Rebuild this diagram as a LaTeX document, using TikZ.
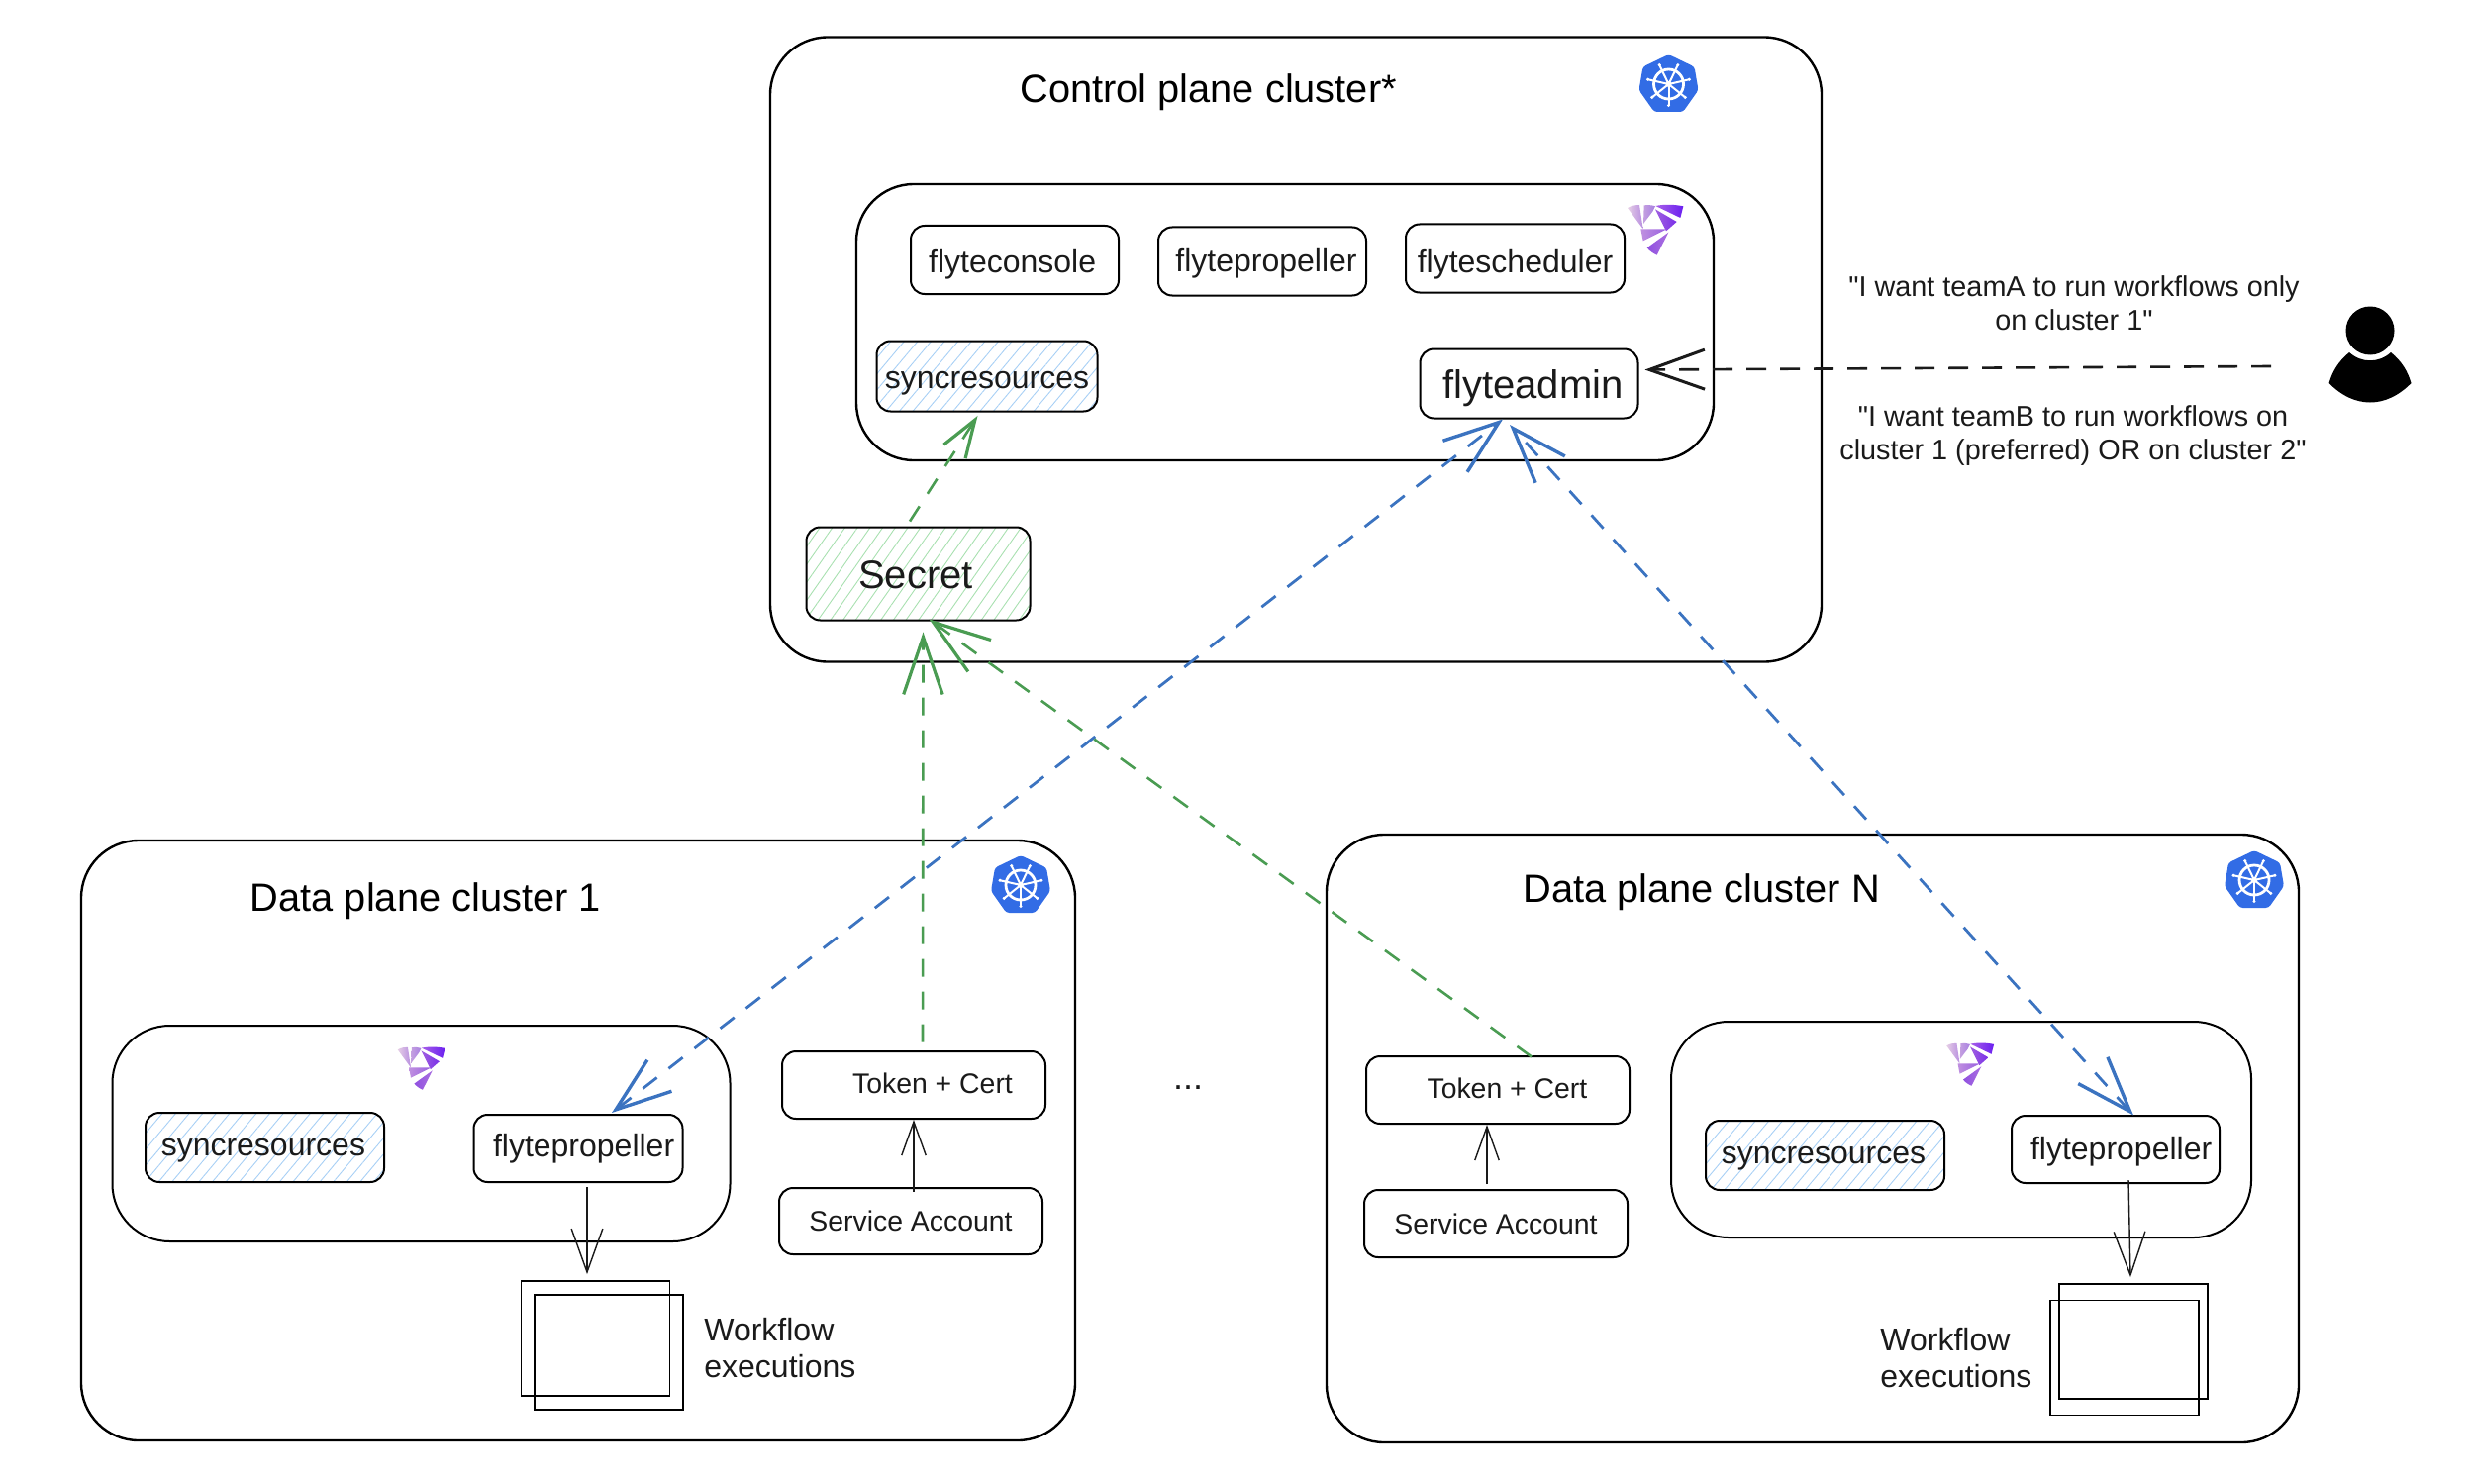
\documentclass[tikz,border=0pt]{standalone}
\usepackage{fontspec}
\setmainfont{Liberation Sans}
\newfontfamily\plainsans{Liberation Sans}
\usetikzlibrary{arrows.meta,patterns.meta,calc}
\definecolor{ink}{HTML}{1A1A1A}
\definecolor{kblue}{HTML}{326CE5}
\definecolor{bluedash}{HTML}{3B73C0}
\definecolor{greendash}{HTML}{4A9C52}
\definecolor{hatchblue}{HTML}{A8D0F5}
\definecolor{hatchgreen}{HTML}{A8E0B0}
\definecolor{pa1}{HTML}{E6CFE6}\definecolor{pa2}{HTML}{B88FE0}
\definecolor{pb1}{HTML}{C4A0E0}\definecolor{pb2}{HTML}{A880E2}
\definecolor{pc1}{HTML}{A860E8}\definecolor{pc2}{HTML}{6A1FF0}
\definecolor{pd1}{HTML}{A060E0}\definecolor{pd2}{HTML}{7A30E8}
\definecolor{pe1}{HTML}{C090E0}\definecolor{pe2}{HTML}{9860E0}
\definecolor{pf1}{HTML}{9050E0}\definecolor{pf2}{HTML}{AA70E0}
% text in a box: horizontal offset (twice the shift), baseline offset from the centre, text
\newcommand\tx[3]{\hspace*{#1}\raisebox{#2}[0pt][0pt]{#3}}
\tikzset{
  cluster/.style={draw=black,line width=1.2pt,rounded corners=29pt,rectangle,inner sep=0pt},
  comp/.style={draw=black,line width=1pt,rounded corners=7pt,rectangle,inner sep=0pt,text=ink,fill=white},
  hatchb/.style={pattern={Lines[angle=50,distance=5.2pt,line width=.45pt]},pattern color=hatchblue},
  hatchg/.style={pattern={Lines[angle=55,distance=5.2pt,line width=.45pt]},pattern color=hatchgreen},
  square/.style={draw=black,line width=.9pt,rectangle,inner sep=0pt},
  label/.style={text=ink,inner sep=0pt,font=\fontsize{16}{18.5}\selectfont,align=left},
  title/.style={text=black,inner sep=0pt,font=\fontsize{19.9}{24}\selectfont},
  quote/.style={text=ink,inner sep=0pt,align=center,font=\plainsans\fontsize{14.4}{16.8}\selectfont},
  fs16/.style={font=\fontsize{16}{18}\selectfont},
  fs14/.style={font=\fontsize{14.2}{17}\selectfont},
  fs20/.style={font=\fontsize{20}{24}\selectfont},
  bluelink/.style={draw=bluedash,line width=1.4pt,dash pattern=on 9pt off 7.5pt,{Straight Barb[length=28pt,width=20pt,line width=1.7pt,bluedash]}-{Straight Barb[length=28pt,width=20pt,line width=1.7pt,bluedash]}},
  greenlink/.style={draw=greendash,line width=1.3pt,dash pattern=on 9pt off 7.5pt,-{Straight Barb[length=#1,width=.68*#1,line width=1.6pt,greendash]}},
  blacklink/.style={draw=ink,line width=1.3pt,dash pattern=on 10pt off 7pt,-{Straight Barb[length=28pt,width=20pt,line width=1.5pt,ink]}},
  thinarrow/.style={draw=ink,line width=.7pt,-{Straight Barb[length=#1,width=.72*#1,line width=.7pt,ink]}},
  k8slogo/.pic={
    \fill[kblue,rounded corners=1.5pt] (0,-30) -- (26,-17.5) -- (30,6) -- (14.5,28) -- (-14.5,28) -- (-30,6) -- (-26,-17.5) -- cycle;
    \draw[white,line width=1.4pt] (0,0) circle (15);
    \fill[white] (0,0) circle (3);
    \foreach \a in {90,141.43,192.86,244.29,295.71,347.14,398.57}{
      \draw[white,line width=1pt] (0,0) -- (\a:22);
      \fill[white] (\a:21.5) circle (1.7);
    }
  },
  flytelogo/.pic={
    \begin{scope}[x=.1667pt,y=-.1667pt,line join=round]
    \shade[left color=pa1,right color=pa2] (-84,-66) .. controls (-72,-73) and (-60,-75) .. (-48,-75) -- (-37,-2) -- cycle;
    \shade[left color=pb1,right color=pb2] (-34,-74) .. controls (-22,-75) and (-10,-75) .. (0,-71) -- (-8,-55) -- (-36,-18) -- cycle;
    \shade[left color=pc1,right color=pc2] (1,-72) .. controls (30,-78) and (60,-76) .. (85,-71) -- (76,-36) -- cycle;
    \shade[left color=pd1,right color=pd2] (0,-62) -- (65,-24) -- (33,4) -- cycle;
    \shade[left color=pe1,right color=pe2] (-44,-2) -- (35,-2) -- (-37,34) -- cycle;
    \shade[left color=pf1,right color=pf2] (40,8) -- (5,77) .. controls (-6,72) and (-18,64) .. (-25,55) -- cycle;
    \end{scope}
  }
}
\begin{document}
\begin{tikzpicture}[x=.5pt,y=-.5pt]
\useasboundingbox (0,0) rectangle (2498,1498);
% clusters
\node[cluster,minimum width=531pt,minimum height=315.5pt] (control) at (1309,353) {};
\node[cluster,minimum width=433pt,minimum height=139.5pt] (cinner) at (1298,325.5) {};
\node[cluster,minimum width=502pt,minimum height=303pt] (dp1) at (584,1152) {};
\node[cluster,minimum width=312pt,minimum height=109pt,line width=1pt] (dp1inner) at (425.5,1145) {};
\node[cluster,minimum width=491pt,minimum height=307pt] (dpn) at (1831,1150) {};
\node[cluster,minimum width=293pt,minimum height=109pt,line width=1pt] (dpninner) at (1981,1141) {};
% titles
\node[title,anchor=west] (ctitle) at (1030,93) {Control plane cluster*};
\node[title,anchor=west] (dp1title) at (252.5,910) {Data plane cluster 1};
\node[title,anchor=west] (dpntitle) at (1538,901.5) {Data plane cluster N};
% logos
\pic at (1685.5,85) {k8slogo};
\pic at (1031,894) {k8slogo};
\pic at (2277,889) {k8slogo};
\pic at (1672,232) {flytelogo};
\pic[scale=.85] at (425.5,1079) {flytelogo};
\pic[scale=.85] at (1990,1075) {flytelogo};
% control plane components
\node[comp,fs16,minimum width=105pt,minimum height=34.5pt] (console) at (1025,262.5) {\tx{-2.4pt}{-6.5pt}{flyteconsole}};
\node[comp,fs16,minimum width=105pt,minimum height=34.5pt] (cprop) at (1275,264) {\tx{4pt}{-5pt}{flytepropeller}};
\node[comp,fs16,minimum width=110.5pt,minimum height=34.5pt] (sched) at (1530.5,261) {\tx{0pt}{-7pt}{flytescheduler}};
\node[comp,fs16,hatchb,minimum width=111.5pt,minimum height=35.5pt] (csync) at (997,380) {\tx{0pt}{-6.1pt}{syncresources}};
\node[comp,fs20,minimum width=110pt,minimum height=35pt] (admin) at (1544.5,387.5) {\tx{4pt}{-7.6pt}{flyteadmin}};
\node[comp,fs20,hatchg,minimum width=113pt,minimum height=47pt] (secret) at (927.5,579.5) {\tx{-2.4pt}{-7.3pt}{Secret}};
% data plane 1
\node[comp,fs16,hatchb,minimum width=120.5pt,minimum height=35pt] (sync1) at (267.5,1159) {\tx{-1.6pt}{-4.1pt}{syncresources}};
\node[comp,fs16,minimum width=105.5pt,minimum height=34pt] (prop1) at (584,1160) {\tx{5.6pt}{-4.15pt}{flytepropeller}};
\node[comp,fs14,minimum width=133pt,minimum height=34pt] (token1) at (923,1096) {\tx{19pt}{-4.4pt}{Token + Cert}};
\node[comp,fs14,minimum width=133pt,minimum height=33.5pt] (sa1) at (920,1233.5) {\tx{0pt}{-5.2pt}{Service Account}};
\node[square,minimum width=75pt,minimum height=58pt] (wf1a) at (601.5,1352) {};
\node[square,minimum width=75pt,minimum height=58pt] (wf1b) at (615,1366) {};
\node[label,anchor=west] (wf1t) at (711,1362) {Workflow\\executions};
% data plane N
\node[comp,fs16,hatchb,minimum width=120.5pt,minimum height=35pt] (syncn) at (1843.5,1167) {\tx{-1.6pt}{-4.2pt}{syncresources}};
\node[comp,fs16,minimum width=105pt,minimum height=34pt] (propn) at (2137,1161) {\tx{5.6pt}{-5pt}{flytepropeller}};
\node[comp,fs14,minimum width=133pt,minimum height=34pt] (tokenn) at (1513,1101) {\tx{9.4pt}{-4.4pt}{Token + Cert}};
\node[comp,fs14,minimum width=133pt,minimum height=34pt] (san) at (1511,1236) {\tx{0pt}{-5.2pt}{Service Account}};
\node[square,minimum width=75pt,minimum height=58pt] (wfna) at (2155,1355) {};
\node[square,minimum width=75pt,minimum height=58pt] (wfnb) at (2146,1371.5) {};
\node[label,anchor=west] (wfnt) at (1899,1371.5) {Workflow\\executions};
\node[text=ink,font=\fontsize{18}{20}\selectfont] (dots) at (1200,1099) {...};
% user
\coordinate (userend) at (2294,370);
\fill[black] (2394,334) circle (24.5);
\fill[black] (2373,356) .. controls (2385,367) and (2403,367) .. (2415,356) .. controls (2426,365) and (2432,375) .. (2435.5,387) .. controls (2410,413) and (2378,413) .. (2352.5,387) .. controls (2356,375) and (2362,365) .. (2373,356) -- cycle;
% quotes
\node[quote] (q1) at (2095,306) {"I want teamA to run workflows only\\on cluster 1"};
\node[quote] (q2) at (2094,440) {"I want teamB to run workflows on\\cluster 1 (preferred) OR on cluster 2"};
% connectors
\draw[blacklink] (userend) -- ($(admin.east)+(6,-14)$);
\draw[greenlink=19pt] ($(secret.north)+(-8.5,-5.5)$) -- ($(csync.south)+(-9.5,4)$);
\draw[bluelink] ($(prop1.north)+(34,-1)$) -- ($(admin.south)+(-26.5,0)$);
\draw[bluelink] ($(propn.north)+(18,0.5)$) -- ($(admin.south)+(-19.5,5.5)$);
\draw[greenlink=29pt] ($(token1.north)+(9,-8.5)$) -- ($(secret.south)+(5,11.5)$);
\draw[greenlink=29pt] ($(tokenn.north)+(34,1.5)$) -- ($(secret.south)+(11,-1.5)$);
\draw[thinarrow=17pt] ($(sa1.north)+(3,4.5)$) -- (token1.south);
\draw[thinarrow=17pt] ($(san.north)+(-9,-5)$) -- ($(tokenn.south)+(-11,0)$);
\draw[thinarrow=22pt] ($(prop1.south)+(9,4)$) -- ($(wf1a.north)+(-8.5,-6)$);
\draw[thinarrow=22pt] ($(propn.south)+(13,-4)$) -- ($(wfna.north)+(-3,-6)$);
\end{tikzpicture}
\end{document}
